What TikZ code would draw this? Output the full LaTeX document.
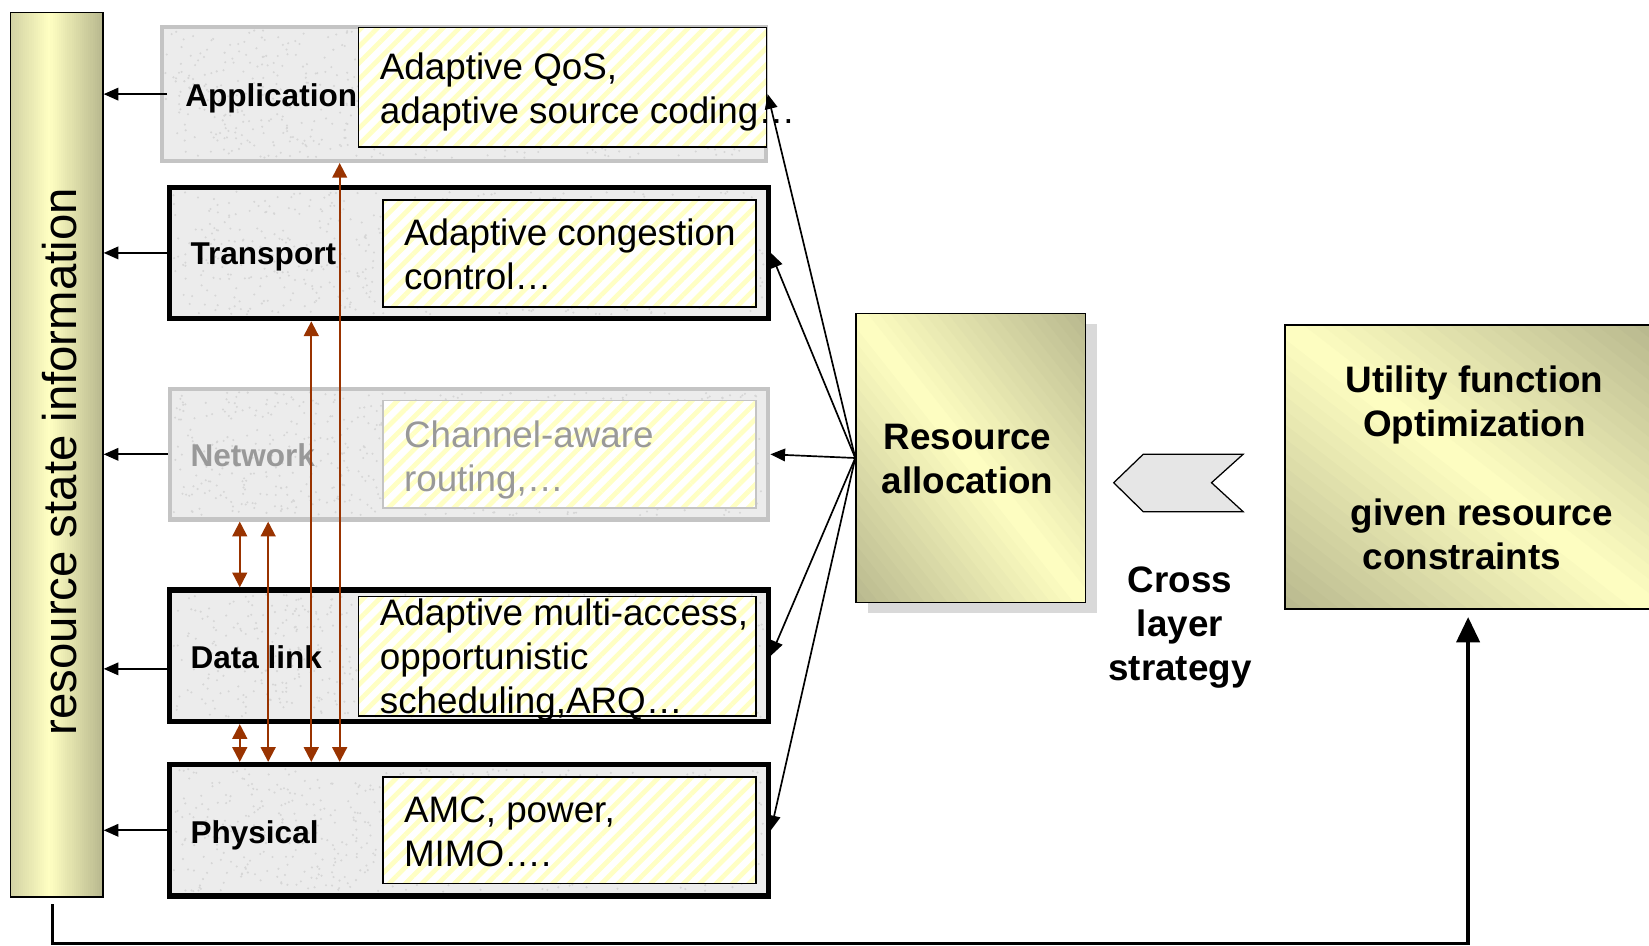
\documentclass[tikz,border=0pt]{standalone}
\usepackage{fontspec}
\setmainfont{Liberation Sans}
\usetikzlibrary{arrows.meta,patterns.meta}

\definecolor{texgray}{HTML}{ECECEC}
\definecolor{specgray}{HTML}{D6D6D6}
\definecolor{faintedge}{HTML}{C4C4C4}
\definecolor{fainttext}{HTML}{999999}
\definecolor{hatchy}{HTML}{FFFFC4}
\definecolor{rust}{HTML}{993300}
\definecolor{khakiD}{HTML}{B8B88E}
\definecolor{khakiM}{HTML}{FFFFC2}
\definecolor{khakiE}{HTML}{D2D2A4}
\definecolor{chevgray}{HTML}{E6E6E6}
\definecolor{shadowgray}{HTML}{D9D9D9}

% diagonal khaki gradient: light along the TL-BR diagonal, dark in the
% top-right and bottom-left corners; arguments: left, top, width, height
\newcommand{\khakidiag}[4]{%
  \begin{scope}
    \clip (#1,#2) rectangle ++(#3,#4);
    \foreach \k in {0,...,39}{%
      \pgfmathsetmacro\va{-1+\k/20}%
      \pgfmathsetmacro\vb{\va+0.065}%
      \pgfmathtruncatemacro\pc{100*(1-abs(\va+0.025))}%
      \fill[khakiM!\pc!khakiD]
        ({#1+\va*#3},#2) -- ({#1+\vb*#3},#2) --
        ({#1+(\vb+1)*#3},{#2+#4}) -- ({#1+(\va+1)*#3},{#2+#4}) -- cycle;
    }
  \end{scope}}

% horizontal khaki gradient for the state bar
\newcommand{\khakibar}[4]{%
  \foreach \k in {0,...,43}{%
    \pgfmathsetmacro\t{(\k+0.5)/44}%
    \pgfmathtruncatemacro\pc{\t<0.42 ? 100*\t/0.42 : 100*(1-\t)/0.58}%
    \pgfmathsetmacro\xa{#1+\k*#3/44}%
    \pgfmathsetmacro\xb{\xa+#3/44+0.6}%
    \ifdim\t pt<0.42pt
      \fill[khakiM!\pc!khakiE] (\xa,#2) rectangle (\xb,{#2+#4});
    \else
      \fill[khakiM!\pc!khakiD] (\xa,#2) rectangle (\xb,{#2+#4});
    \fi
  }}

% granite speckles on a layer face; arguments: left, top, width, height
\newcommand{\speckle}[4]{%
  \foreach \i in {1,...,700}{%
    \fill[specgray] ({#1+rnd*#3},{#2+rnd*#4}) circle (1.1pt);
  }}

\begin{document}
\begin{tikzpicture}[x=1pt,y=-1pt,
  layer/.style={draw=black, line width=5pt, fill=texgray, inner sep=0pt,
    minimum width=569pt, minimum height=125pt},
  faintlayer/.style={layer, draw=faintedge, line width=4pt},
  hatchbox/.style={draw=black, line width=1.5pt, inner sep=0pt,
    preaction={fill=white},
    pattern={Lines[angle=45,distance=11pt,line width=4.5pt]}, pattern color=hatchy},
  laylabel/.style={font=\fontsize{30}{36}\selectfont\bfseries, anchor=west, inner sep=0pt},
  body/.style={font=\fontsize{35}{42}\selectfont, anchor=west, align=left, inner sep=0pt},
  boldtext/.style={font=\fontsize{35}{42}\selectfont\bfseries, align=center, inner sep=0pt},
  frame/.style={draw=black, line width=1.5pt, inner sep=0pt},
  conn/.style={line width=1.6pt, -{Triangle[length=14pt,width=12pt]}},
  crossarr/.style={draw=rust, line width=2pt,
    {Triangle[length=14pt,width=14pt]}-{Triangle[length=14pt,width=14pt]}},
  feedback/.style={line width=3.5pt, -{Triangle[length=24pt,width=22pt]}}
]
\useasboundingbox (0,0) rectangle (1568,899);
\pgfmathsetseed{4242}

% resource state information bar
\khakibar{10}{12}{88}{841}
\node[frame, line width=1.2pt, minimum width=88pt, minimum height=841pt] (rsi) at (54,432.5) {};
\node[rotate=90, inner sep=0pt, font=\fontsize{45}{54}\selectfont] (rsiText) at (57,439)
  {resource state information};

% protocol layers
\node[faintlayer, minimum width=574pt, minimum height=127pt] (app) at (441,89.5) {};
\node[layer] (trans) at (446,240.5) {};
\node[faintlayer, minimum height=124pt] (net) at (446,432) {};
\node[layer] (dl) at (446,623.5) {};
\node[layer] (phy) at (446,789.5) {};
\speckle{157}{29}{568}{121}
\speckle{165}{182}{561}{117}
\speckle{165}{373}{561}{117}
\speckle{165}{565}{561}{117}
\speckle{165}{731}{561}{117}

% adaptation boxes inside the layers
\node[hatchbox, minimum width=388pt, minimum height=114pt] (appBox) at (535,83) {};
\node[hatchbox, minimum width=355pt, minimum height=102pt] (transBox) at (541.5,241) {};
\node[hatchbox, draw=faintedge, minimum width=355pt, minimum height=102pt] (netBox) at (541.5,432) {};
\node[hatchbox, minimum width=378pt, minimum height=114pt] (dlBox) at (530,624) {};
\node[hatchbox, minimum width=355pt, minimum height=101pt] (phyBox) at (541.5,789.5) {};

% layer names
\node[laylabel] (appLabel) at (176,93.6) {\strut Application};
\node[laylabel] (transLabel) at (181,244.6) {\strut Transport};
\node[laylabel, text=fainttext] (netLabel) at (181,436.6) {\strut Network};
\node[laylabel] (dlLabel) at (181,628.6) {\strut Data link};
\node[laylabel] (phyLabel) at (181,794.6) {\strut Physical};

% adaptation texts
\node[body] (appText) at (361,88) {\strut Adaptive QoS,\\adaptive source coding\ldots\strut};
\node[body] (transText) at (384,246) {\strut Adaptive congestion\\control\ldots\strut};
\node[body, text=fainttext] (netText) at (384,438) {\strut Channel-aware\\routing,\ldots\strut};
\node[body] (dlText) at (361,628) {\strut Adaptive multi-access,\\opportunistic\\scheduling,ARQ\ldots\strut};
\node[body] (phyText) at (384,795) {\strut AMC, power,\\MIMO\ldots.\strut};

% state reports to the resource state bar
\draw[conn] (trans.west |- app.west) -- (app.west -| rsi.east);
\draw[conn] (trans.west) -- (trans.west -| rsi.east);
\draw[conn] (net.west) -- (net.west -| rsi.east);
\draw[conn] ([yshift=-12.5pt]dl.west) -- ([yshift=-12.5pt]dl.west -| rsi.east);
\draw[conn] (phy.west) -- (phy.west -| rsi.east);

% cross-layer interactions
\coordinate (xa) at (228,0);
\coordinate (xb) at (255,0);
\coordinate (xc) at (296,0);
\coordinate (xd) at (323,0);
\draw[crossarr] (net.south -| xa) -- (dl.north -| xa);
\draw[crossarr] (dl.south -| xa) -- (phy.north -| xa);
\draw[crossarr] (net.south -| xb) -- (phy.north -| xb);
\draw[crossarr] (trans.south -| xc) -- (phy.north -| xc);
\draw[crossarr] (app.south -| xd) -- (phy.north -| xd);

% resource allocation, with its shadow and shaded face
\fill[shadowgray] (825,308) rectangle (1043,583);
\khakidiag{814}{298}{218}{275}
\node[frame, minimum width=218pt, minimum height=275pt] (ra) at (923,435.5) {};
\node[boldtext] (raText) at (920,440) {\strut Resource\\allocation\strut};

\draw[conn] (ra.west) -- (app.east);
\draw[conn] (ra.west) -- (trans.east);
\draw[conn] (ra.west) -- (net.east);
\draw[conn] (ra.west) -- (dl.east);
\draw[conn] (ra.west) -- (phy.east);

% cross layer strategy
\draw[line width=1.2pt, fill=chevgray]
  (1059,459) -- (1087,432) -- (1182,432) -- (1152,459) -- (1182,486.5) -- (1087,486.5) -- cycle;
\node[boldtext] (strategy) at (1122,597) {\strut Cross\\layer\\strategy\strut};

% utility optimisation
\khakidiag{1222}{309}{348}{270}
\node[frame, minimum width=348pt, minimum height=270pt] (uf) at (1396,444) {};
\node[boldtext] (ufText) at (1402,449)
  {\strut Utility function\\Optimization\\[42pt]\hspace*{14pt}given resource\\constraints\hspace*{24pt}\strut};

% feedback from the state bar to the optimiser
\coordinate (fbStart) at (50,860);
\coordinate (fbLow) at (50,897);
\draw[feedback] (fbStart) -- (fbLow) -| ([yshift=-7pt]uf.south);
\end{tikzpicture}
\end{document}
